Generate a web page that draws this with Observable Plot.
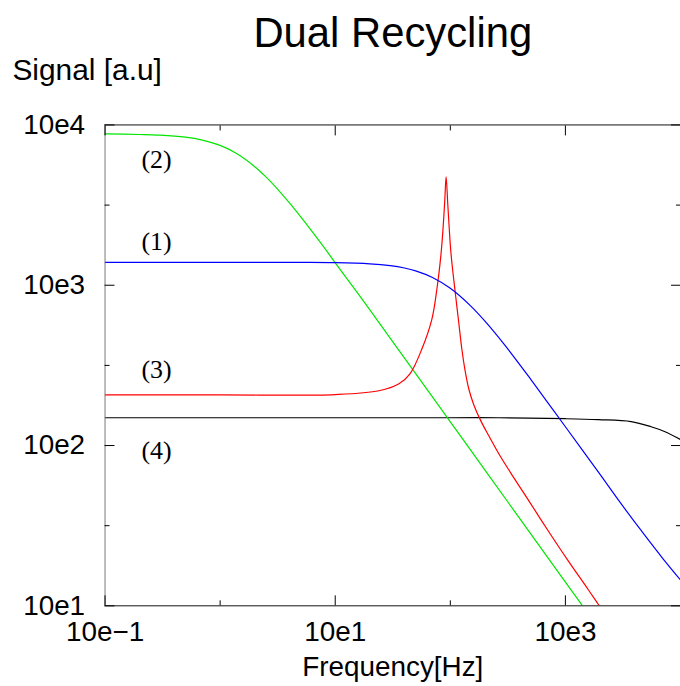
<!DOCTYPE html>
<html><head><meta charset="utf-8">
<script src="https://cdn.jsdelivr.net/npm/d3@7"></script>
<script src="https://cdn.jsdelivr.net/npm/@observablehq/plot@0.6"></script>
<style>html,body{margin:0;padding:0;background:#fff;overflow:hidden;}</style>
</head><body><div id="chart"></div>
<script>
// Texts
const titleText = "Dual Recycling";
const yTitle = "Signal [a.u]";
const xTitle = "Frequency[Hz]";

// Tick values and labels
const xMajor = [0.1, 10, 1000];
const xMajorLabels = ["10e\u22121", "10e1", "10e3"];
const xMinor = [1, 100];
const yMajor = [10, 100, 1000, 10000];
const yMajorLabels = ["10e1", "10e2", "10e3", "10e4"];
const yMinor = [31.62, 316.2, 3162];

// Curve (1) blue
const freq1 = [0.1, 1, 5, 10, 20, 30, 40, 50, 70, 100, 150, 200, 300, 500, 700, 1000, 2000, 3000, 5000, 7000, 10000];
const val1  = [1390, 1390, 1388, 1383, 1360, 1325, 1281, 1230, 1118, 957, 744, 597, 420, 259, 186, 131, 66, 44, 27, 19.8, 14.5];

// Curve (2) green
const freq2 = [0.1, 0.2, 0.3, 0.5, 0.7, 1, 1.4, 2, 2.5, 3, 4, 5, 6, 8, 10, 15, 20, 30, 50, 100, 200, 500, 1000, 1500];
const val2  = [8790, 8720, 8640, 8390, 8050, 7455, 6610, 5490, 4740, 4140, 3265, 2680, 2265, 1725, 1380, 932, 701, 468, 281, 140.5, 70.3, 28.1, 14.05, 9.4];

// Curve (3) red
const freq3 = [0.1, 1, 10, 24, 35.8, 44.6, 56.6, 69.2, 76.4, 82.8, 86.1, 89.6, 91.9, 95.1, 98, 101, 105.1, 111.6, 118.5, 125.9, 133.6, 144.6, 159.8, 183.7, 215.4, 263, 354.6, 478.3, 712.6, 1062, 1582, 1970, 2453];
const val3  = [207, 207, 208, 219.6, 242.7, 279.9, 400, 615, 944, 1536, 2165, 3421, 4753, 3185, 2227, 1627, 1222, 842, 581, 400, 301, 226, 179.8, 143, 115.4, 89.2, 63.3, 45.5, 29.2, 19.0, 12.6, 10, 7.95];

// Curve (4) black
const freq4 = [0.1, 10, 100, 263, 1000, 1932, 3725, 5555, 7345, 10000];
const val4  = [149, 149, 149, 149, 147, 145, 141, 131, 122, 109];

// Curve labels
const curveLabels = ["(1)", "(2)", "(3)", "(4)"];
const labelFreq = [0.28, 0.28, 0.28, 0.28];
const labelVal = [1875, 6070, 297, 93];

const rows = (f, v) => f.map((x, i) => ({f: x, v: v[i]}));
const s1 = rows(freq1, val1), s2 = rows(freq2, val2), s3 = rows(freq3, val3), s4 = rows(freq4, val4);
const labels = curveLabels.map((t, i) => ({t, f: labelFreq[i], v: labelVal[i]}));

const lineOpts = {x: "f", y: "v", strokeWidth: 1.2, curve: "catmull-rom", clip: true};
const blank = () => "";

const chart = Plot.plot({
  width: 683, height: 686,
  marginLeft: 105, marginRight: 0, marginTop: 125, marginBottom: 78,
  style: {fontFamily: "'Liberation Sans', Arial, Helvetica, sans-serif", background: "white", color: "black", overflow: "visible"},
  x: {type: "log", domain: [0.1, 10000]},
  y: {type: "log", domain: [10, 10000]},
  marks: [
    Plot.line(s4, {...lineOpts, stroke: "#000000"}),
    Plot.line(s2, {...lineOpts, stroke: "#00e600"}),
    Plot.line(s3, {...lineOpts, stroke: "#ff0000"}),
    Plot.line(s1, {...lineOpts, stroke: "#0000ff"}),
    Plot.ruleY([10, 10000], {stroke: "#111"}),
    Plot.ruleX([0.1], {stroke: "#777"}),
    // ticks (inward)
    Plot.axisX(xMajor, {anchor: "bottom", tickSize: -10, tickFormat: blank, label: null}),
    Plot.axisX(xMinor, {anchor: "bottom", tickSize: -5, tickFormat: blank, label: null}),
    Plot.axisX(xMajor, {anchor: "top", tickSize: -10, tickFormat: blank, label: null}),
    Plot.axisX(xMinor, {anchor: "top", tickSize: -5, tickFormat: blank, label: null}),
    Plot.axisY(yMajor, {anchor: "left", tickSize: -10, tickFormat: blank, label: null}),
    Plot.axisY(yMinor, {anchor: "left", tickSize: -5, tickFormat: blank, label: null}),
    Plot.axisY(yMajor, {anchor: "right", tickSize: -10, tickFormat: blank, label: null}),
    Plot.axisY(yMinor, {anchor: "right", tickSize: -5, tickFormat: blank, label: null}),
    // tick labels
    Plot.axisX(xMajor, {anchor: "bottom", tickSize: 0, tickPadding: 15, fontSize: 28, label: null,
      tickFormat: d => xMajorLabels[xMajor.indexOf(d)]}),
    Plot.axisY(yMajor, {anchor: "left", tickSize: 0, tickPadding: 20, fontSize: 28, label: null,
      tickFormat: d => yMajorLabels[yMajor.indexOf(d)]}),
    // curve labels
    Plot.text(labels, {x: "f", y: "v", text: "t", fontSize: 26, fontFamily: "'Liberation Serif', 'DejaVu Serif', serif", lineAnchor: "middle"}),
    // titles
    Plot.text([titleText], {text: d => d, frameAnchor: "top", dy: -92, fontSize: 42, lineAnchor: "middle"}),
    Plot.text([yTitle], {text: d => d, frameAnchor: "top-left", textAnchor: "start", dx: -93, dy: -55, fontSize: 30, lineAnchor: "middle"}),
    Plot.text([xTitle], {text: d => d, frameAnchor: "bottom", dy: 62, fontSize: 28, lineAnchor: "middle"})
  ]
});
document.getElementById("chart").appendChild(chart);
</script>
</body></html>
